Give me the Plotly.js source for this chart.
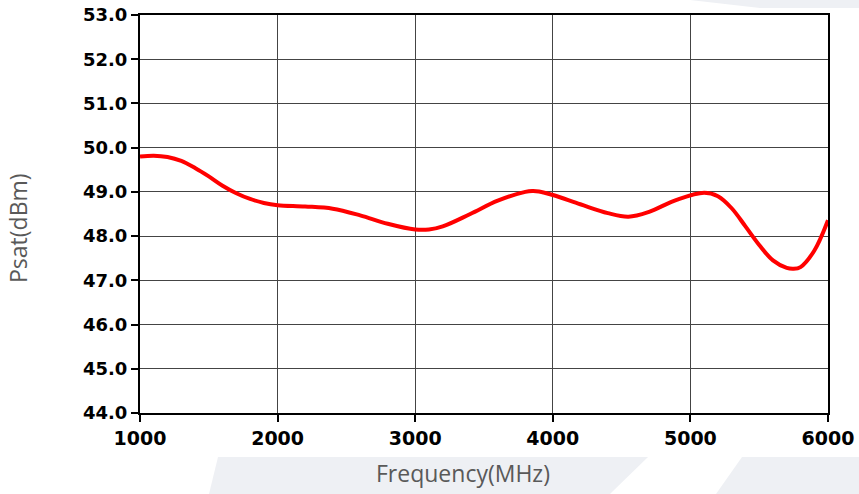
<!DOCTYPE html>
<html>
<head>
<meta charset="utf-8">
<script src="https://cdn.plot.ly/plotly-3.0.1.min.js"></script>
<style>html,body{margin:0;padding:0;background:#fff;}#chart{width:859px;height:494px;}</style>
</head>
<body>
<div id="chart"></div>
<script>
// Data
const frequencyMHz = [1000,1100,1200,1300,1400,1500,1600,1700,1800,1900,2000,2200,2400,2600,2800,3000,3100,3200,3400,3600,3800,3850,3900,4000,4200,4400,4550,4700,4900,5100,5200,5300,5400,5500,5600,5700,5750,5800,5900,6000];
const psatDBm    = [49.80,49.82,49.79,49.70,49.54,49.35,49.14,48.97,48.84,48.75,48.70,48.67,48.62,48.47,48.28,48.15,48.15,48.22,48.50,48.80,49.00,49.02,49.01,48.93,48.72,48.52,48.44,48.55,48.82,48.98,48.90,48.63,48.22,47.80,47.45,47.28,47.26,47.30,47.67,48.36];
const yTickVals  = [44,45,46,47,48,49,50,51,52,53];
const xTickVals  = [1000,2000,3000,4000,5000,6000];
const xTitle = 'Frequency(MHz)';
const yTitle = 'Psat(dBm)';

const W = 859, H = 494;
const M = {l: 140, r: 31, t: 15, b: 81};
const pw = W - M.l - M.r, ph = H - M.t - M.b;
const px = x => (x - M.l) / pw;
const py = y => (H - M.b - y) / ph;
function band(pts) {
  return {
    type: 'path', xref: 'paper', yref: 'paper', layer: 'below',
    path: 'M' + pts.map(p => px(p[0]).toFixed(4) + ',' + py(p[1]).toFixed(4)).join(' L') + ' Z',
    fillcolor: '#eef0f4', line: {width: 0}
  };
}
const titleFont = {family: 'Open Sans', size: 23, color: '#595959'};

const trace = {
  x: frequencyMHz, y: psatDBm, type: 'scatter', mode: 'lines',
  line: {color: '#ff0000', width: 4, shape: 'spline', smoothing: 1},
  hoverinfo: 'skip'
};

const layout = {
  width: W, height: H,
  margin: M,
  paper_bgcolor: 'rgba(0,0,0,0)', plot_bgcolor: '#ffffff',
  showlegend: false,
  xaxis: {
    range: [1000, 6000], tickvals: xTickVals, ticktext: xTickVals.map(String),
    ticks: 'outside', ticklen: 7, tickwidth: 2, tickcolor: '#000',
    showgrid: true, gridcolor: '#444', gridwidth: 1,
    showline: true, linecolor: '#000', linewidth: 2, mirror: true,
    zeroline: false,
    tickfont: {family: 'DejaVu Sans', size: 19, color: '#000', weight: 'bold'}
  },
  yaxis: {
    range: [44, 53], tickvals: yTickVals, ticktext: yTickVals.map(v => v.toFixed(1)),
    ticks: 'outside', ticklen: 7, tickwidth: 2, tickcolor: '#000',
    showgrid: true, gridcolor: '#444', gridwidth: 1,
    showline: true, linecolor: '#000', linewidth: 2, mirror: true,
    zeroline: false,
    tickfont: {family: 'DejaVu Sans', size: 18, color: '#000', weight: 'bold'}
  },
  annotations: [
    {text: xTitle, xref: 'paper', yref: 'paper', x: px(463), y: py(473), xanchor: 'center', yanchor: 'middle', showarrow: false, font: titleFont},
    {text: yTitle, xref: 'paper', yref: 'paper', x: px(18), y: py(228), xanchor: 'center', yanchor: 'middle', showarrow: false, textangle: -90, font: titleFont}
  ],
  shapes: [
    band([[218,457],[648,457],[610,494],[209,494]]),
    band([[742,457],[859,457],[859,494],[716,494]]),
    band([[690,0],[859,0],[859,8],[760,8]])
  ]
};

Plotly.newPlot('chart', [trace], layout, {displayModeBar: false, staticPlot: true});
</script>
</body>
</html>
